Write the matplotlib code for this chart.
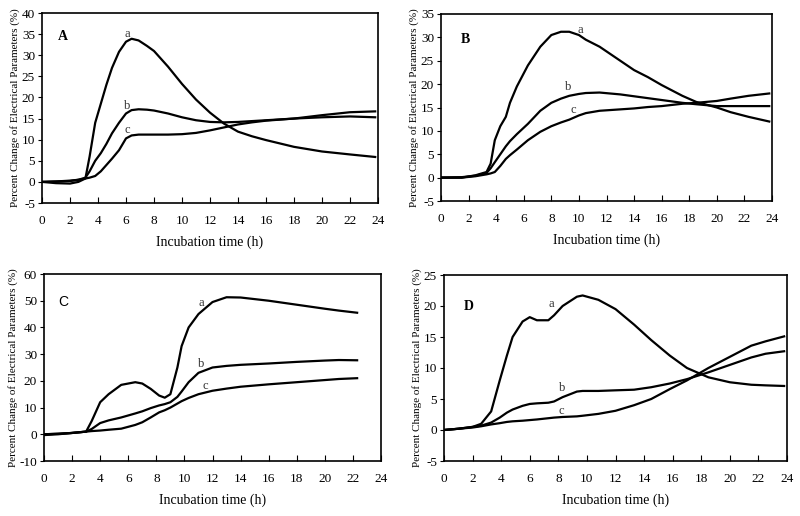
import matplotlib
matplotlib.use('Agg')
import matplotlib.pyplot as plt

plt.rcParams['font.family'] = 'Liberation Serif'
plt.rcParams['axes.unicode_minus'] = False

# panel A
a_x = [0, 1, 2, 2.6, 3.1, 3.4, 3.8, 4.2, 4.6, 5.0, 5.5, 6.0, 6.4, 6.9, 7.5, 8.0, 9.0, 10.0, 11.0, 12.0, 13.0, 14.0, 15.0, 16.0, 18.0, 20.0, 22.0, 23.8]
a_a = [0, -0.3, -0.4, 0, 0.8, 6, 14, 18.5, 23, 27, 30.8, 33.2, 33.9, 33.5, 32.2, 31.0, 27.3, 23.2, 19.5, 16.4, 13.8, 11.9, 10.8, 9.9, 8.3, 7.2, 6.5, 5.9]
a_b = [0, 0.1, 0.2, 0.5, 1.0, 2.5, 5.0, 6.8, 9, 11.5, 14, 16.2, 17.0, 17.2, 17.1, 16.9, 16.2, 15.3, 14.6, 14.2, 14.1, 14.2, 14.4, 14.6, 15.0, 15.3, 15.5, 15.3]
a_c = [0, 0.1, 0.3, 0.5, 0.8, 1.0, 1.4, 2.5, 4.0, 5.5, 7.5, 10.3, 11.0, 11.2, 11.2, 11.2, 11.2, 11.3, 11.6, 12.2, 12.9, 13.6, 14.1, 14.5, 15.0, 15.8, 16.5, 16.7]

# panel B
b_x = [0, 1.5, 2.5, 3.3, 3.6, 3.9, 4.3, 4.7, 5.0, 5.5, 6.3, 7.2, 8.0, 8.7, 9.3, 10.0, 10.5, 11.5, 13.0, 14.0, 15.0, 16.0, 17.5, 18.5, 20.0, 21.0, 22.3, 23.8]
b_a = [0, 0, 0.5, 1.2, 3, 8, 11, 13, 16, 19.5, 24, 28, 30.5, 31.2, 31.2, 30.5, 29.5, 28, 25, 23, 21.5, 19.8, 17.5, 16.2, 15, 14, 13, 12]
b_b = [0, 0.1, 0.4, 1.0, 2.0, 3.3, 5.0, 6.7, 7.8, 9.3, 11.5, 14.3, 16.0, 16.9, 17.5, 17.9, 18.1, 18.2, 17.8, 17.4, 17.0, 16.6, 16.0, 15.7, 15.3, 15.3, 15.3, 15.3]
b_c = [0, 0, 0.3, 0.7, 0.9, 1.2, 2.5, 4.0, 4.8, 6.0, 8.0, 9.8, 11.0, 11.8, 12.4, 13.3, 13.8, 14.3, 14.6, 14.8, 15.1, 15.3, 15.8, 16.0, 16.4, 16.9, 17.5, 18.0]

# panel C
c_x = [0, 1, 2, 3.0, 3.4, 4.0, 4.6, 5.5, 6.5, 7.0, 7.6, 8.2, 8.6, 9.0, 9.5, 9.8, 10.3, 11.0, 12.0, 13.0, 14.0, 16.0, 18.0, 20.0, 21.0, 22.3]
c_a = [0, 0.2, 0.5, 1, 5, 12, 15, 18.5, 19.5, 19, 17, 14.5, 13.7, 15, 25, 33, 40, 45, 49.5, 51.3, 51.2, 50, 48.5, 47, 46.3, 45.5]
c_b = [0, 0.2, 0.5, 1, 2, 4.2, 5.2, 6.3, 7.8, 8.6, 9.8, 10.8, 11.3, 12, 14, 16, 19.5, 23, 25, 25.6, 26, 26.5, 27.1, 27.6, 27.8, 27.7]
c_c = [-0.3, 0, 0.5, 1, 1.2, 1.4, 1.7, 2.1, 3.5, 4.5, 6.3, 8.2, 9.0, 10.0, 11.5, 12.4, 13.6, 15.0, 16.3, 17.1, 17.8, 18.7, 19.5, 20.3, 20.7, 21.0]

# panel D
d_x = [0, 1, 2, 2.6, 3.3, 3.9, 4.4, 4.8, 5.5, 6.0, 6.5, 7.3, 7.7, 8.3, 9.3, 9.7, 10.8, 12.0, 13.3, 14.5, 15.8, 17.0, 18.5, 20.0, 21.5, 22.5, 23.8]
d_a = [0, 0.2, 0.5, 1, 3, 8, 12, 15, 17.5, 18.2, 17.7, 17.7, 18.5, 20, 21.5, 21.7, 21, 19.5, 17, 14.5, 12, 10, 8.5, 7.7, 7.3, 7.2, 7.1]
d_b = [0, 0.2, 0.5, 0.7, 1.2, 2.0, 2.8, 3.3, 3.9, 4.2, 4.3, 4.4, 4.6, 5.3, 6.2, 6.3, 6.3, 6.4, 6.5, 6.9, 7.5, 8.2, 9.3, 10.5, 11.7, 12.3, 12.7]
d_c = [0, 0.2, 0.4, 0.6, 0.9, 1.1, 1.3, 1.4, 1.5, 1.6, 1.7, 1.9, 2.0, 2.1, 2.2, 2.3, 2.6, 3.1, 4.0, 5.0, 6.6, 8.0, 10.0, 11.8, 13.6, 14.3, 15.1]

panels = [
    ('A', a_x, a_a, a_b, a_c, (-5, 40, 5), [(6.1, 35.0), (6.1, 17.9), (6.1, 12.3)], (1.5, 34.5), 'bold', 'Liberation Serif'),
    ('B', b_x, b_a, b_b, b_c, (-5, 35, 5), [(10.1, 31.6), (9.2, 19.4), (9.6, 14.4)], (1.8, 29.5), 'bold', 'Liberation Serif'),
    ('C', c_x, c_a, c_b, c_c, (-10, 60, 10), [(11.2, 49.0), (11.2, 26.2), (11.5, 17.9)], (1.35, 49.5), 'normal', 'Liberation Sans'),
    ('D', d_x, d_a, d_b, d_c, (-5, 25, 5), [(7.5, 20.3), (8.3, 6.7), (8.2, 3.0)], (1.7, 20.0), 'bold', 'Liberation Serif'),
]

# axes boxes in pixels: left, right, top, bottom
boxes = [(42, 378, 13, 203), (441, 772, 14, 201), (44, 381, 274, 461), (444, 787, 275, 461)]

W, H = 800, 516
fig = plt.figure(figsize=(W / 100, H / 100), dpi=100)

for (name, x, ya, yb, yc, ylim, lbls, letter, weight, lfam), (l, r, t, b) in zip(panels, boxes):
    ax = fig.add_axes([l / W, (H - b) / H, (r - l) / W, (b - t) / H])
    for y in (ya, yb, yc):
        ax.plot(x, y, color='black', lw=1.6)
    for txt, (tx, ty) in zip('abc', lbls):
        ax.text(tx, ty, txt, fontsize=9, ha='center', va='center', color='#333333')
    ax.text(letter[0], letter[1], name, fontsize=10, fontweight=weight, family=lfam,
            ha='center', va='center')
    lo, hi, st = ylim
    ax.set_ylim(lo, hi)
    ax.set_yticks(range(lo, hi + 1, st))
    ax.set_xlim(0, 24)
    ax.set_xticks(range(0, 25, 2))
    ax.tick_params(axis='x', direction='in', length=4, labelsize=9.5, pad=9)
    ax.tick_params(axis='y', direction='out', length=3, labelsize=9.5, pad=2)
    for s in ax.spines.values():
        s.set_linewidth(1.2)
    ax.set_xlabel('Incubation time (h)', fontsize=10, labelpad=6)
    ax.set_ylabel('Percent Change of Electrical Parameters (%)', fontsize=8, labelpad=1)

fig.savefig('out.png', dpi=100)
